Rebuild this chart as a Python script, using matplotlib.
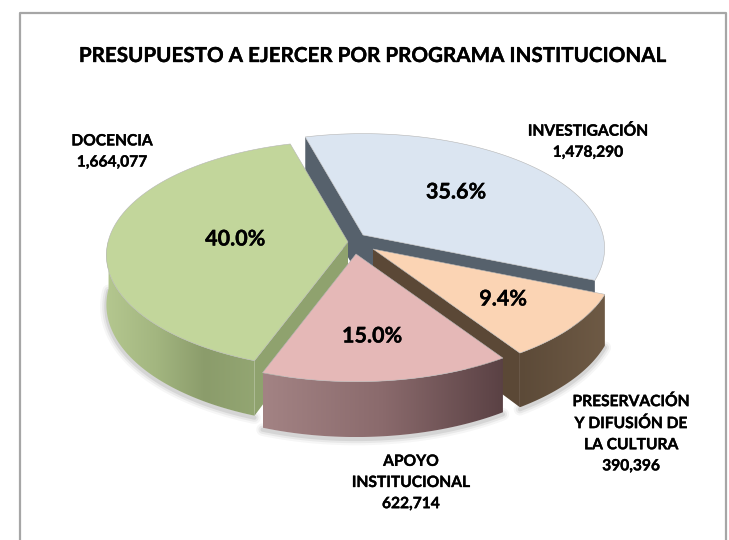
# Pastel 3D del presupuesto por programa institucional
import numpy as np
import matplotlib
matplotlib.use('Agg')
import matplotlib.pyplot as plt
import matplotlib.patheffects as pe
from matplotlib.colors import LinearSegmentedColormap
from matplotlib.patches import Polygon

plt.rcParams['font.family'] = ['Lato', 'DejaVu Sans']

# Datos
programas = ['INVESTIGACIÓN', 'PRESERVACIÓN', 'APOYO', 'DOCENCIA']
valores = [1478290, 390396, 622714, 1664077]
etiquetas = ['INVESTIGACIÓN\n1,478,290',
             'PRESERVACIÓN\nY DIFUSIÓN DE\nLA CULTURA\n390,396',
             'APOYO\nINSTITUCIONAL\n622,714',
             'DOCENCIA\n1,664,077']
titulo = 'PRESUPUESTO A EJERCER POR PROGRAMA INSTITUCIONAL'

# Estilo y posiciones (pixeles de la imagen)
RX, RY, PERSP, ESPESOR = 240, 113, 8.7, 49
INICIO = 105.5
vertices = {'INVESTIGACIÓN': (363, 235), 'PRESERVACIÓN': (373, 249),
            'APOYO': (356, 254), 'DOCENCIA': (348, 242)}
color_tapa = {'INVESTIGACIÓN': '#dbe5f1', 'PRESERVACIÓN': '#fbd4b4',
              'APOYO': '#e5b8b7', 'DOCENCIA': '#c2d69b'}
color_radial = {'INVESTIGACIÓN': '#56616c', 'PRESERVACIÓN': '#5b4836',
                'APOYO': '#6a4c4e', 'DOCENCIA': '#8fa26e'}
# Que borde recto de cada rebanada muestra pared (0 = inicio, -1 = final)
bordes = {'INVESTIGACIÓN': [0, -1], 'PRESERVACIÓN': [-1], 'APOYO': [], 'DOCENCIA': [0]}
grad_lado = {'PRESERVACIÓN': ['#5c4a38', '#6e5a45'],
             'APOYO': ['#a38384', '#8a6a6c', '#5a4144'],
             'DOCENCIA': ['#b4c78f', '#a3b680', '#8b9c6b', '#93a672']}
pos_pct = {'INVESTIGACIÓN': (456, 192), 'PRESERVACIÓN': (503, 299),
           'APOYO': (372, 336), 'DOCENCIA': (235, 239)}
pos_etq = {'INVESTIGACIÓN': (588, 142), 'PRESERVACIÓN': (631, 434),
           'APOYO': (411, 483), 'DOCENCIA': (112, 152)}
orden = ['INVESTIGACIÓN', 'DOCENCIA', 'PRESERVACIÓN', 'APOYO']
trazo = [pe.withStroke(linewidth=0.25, foreground='black')]


def proyecta(t):
    # Punto del borde del disco con perspectiva; devuelve dx, dy y la escala
    s = PERSP / (PERSP + np.sin(t))
    return RX * np.cos(t) * s, -RY * np.sin(t) * s, s


fig = plt.figure(figsize=(7.29, 5.4), dpi=100)
ax = fig.add_axes([0, 0, 1, 1])
ax.set_xlim(0, 729)
ax.set_ylim(540, 0)
ax.axis('off')

# Marco (sin borde inferior, la imagen lo corta)
ax.plot([20, 20, 726, 726], [540, 13, 13, 540], color='#a6a6a6', lw=1.6, zorder=1)

# Angulos de cada rebanada a partir de los valores, en sentido horario
total = sum(valores)
angulos = {}
a = INICIO
for p, v in zip(programas, valores):
    b = a - v / total * 360
    angulos[p] = (a, b)
    a = b

z = 2
for p in orden:
    a, b = angulos[p]
    cx, cy = vertices[p]
    t = np.radians(np.linspace(a, b, 160))
    dx, dy, s = proyecta(t)
    bx, by = cx + dx, cy + dy

    # Paredes radiales (bajan desde el vertice)
    for i in bordes[p]:
        pared = [(cx, cy), (bx[i], by[i]), (bx[i], by[i] + ESPESOR * s[i]), (cx, cy + ESPESOR)]
        ax.add_patch(Polygon(pared, closed=True, fc=color_radial[p], ec='none', zorder=z))
    z += 1

    # Pared exterior con degradado, solo la mitad frontal
    frente = np.sin(t) < 0.02
    if frente.any() and p in grad_lado:
        fx, fy, fs = bx[frente], by[frente], s[frente]
        pts = np.r_[np.c_[fx, fy], np.c_[fx, fy + ESPESOR * fs][::-1]]
        # Sombra suave bajo la pared
        for w, al in zip([9, 6, 3], [0.05, 0.08, 0.12]):
            ax.plot(fx, fy + ESPESOR * fs + 2, color='#505050', lw=w, alpha=al,
                    solid_capstyle='round', zorder=z - 1)
        poly = Polygon(pts, closed=True, fc='none', ec='none', zorder=z)
        ax.add_patch(poly)
        cmap = LinearSegmentedColormap.from_list(p, grad_lado[p])
        grad = np.linspace(0, 1, 256).reshape(1, -1)
        im = ax.imshow(grad, cmap=cmap, aspect='auto', zorder=z,
                       extent=[fx.min(), fx.max(), pts[:, 1].max(), pts[:, 1].min()])
        im.set_clip_path(poly)
        ax.set_xlim(0, 729)
        ax.set_ylim(540, 0)
    z += 1

    # Tapa
    tapa = np.r_[[[cx, cy]], np.c_[bx, by]]
    ax.add_patch(Polygon(tapa, closed=True, fc=color_tapa[p], ec='#b5b5b5', lw=0.4, zorder=z))
    z += 1

# Textos
ax.text(371.5, 56, titulo, ha='center', va='center', fontsize=14.85, fontweight='bold',
        color='black', zorder=50, path_effects=trazo)
for p, v, e in zip(programas, valores, etiquetas):
    ax.text(*pos_pct[p], f'{v / total * 100:.1f}%', ha='center', va='center', fontsize=15.5,
            fontweight='bold', color='black', zorder=50, path_effects=trazo)
    ax.text(*pos_etq[p], e, ha='center', va='center', fontsize=11.2, fontweight='bold',
            color='black', linespacing=1.65, zorder=50, path_effects=trazo)

fig.savefig('out.png', dpi=100, facecolor='white')
